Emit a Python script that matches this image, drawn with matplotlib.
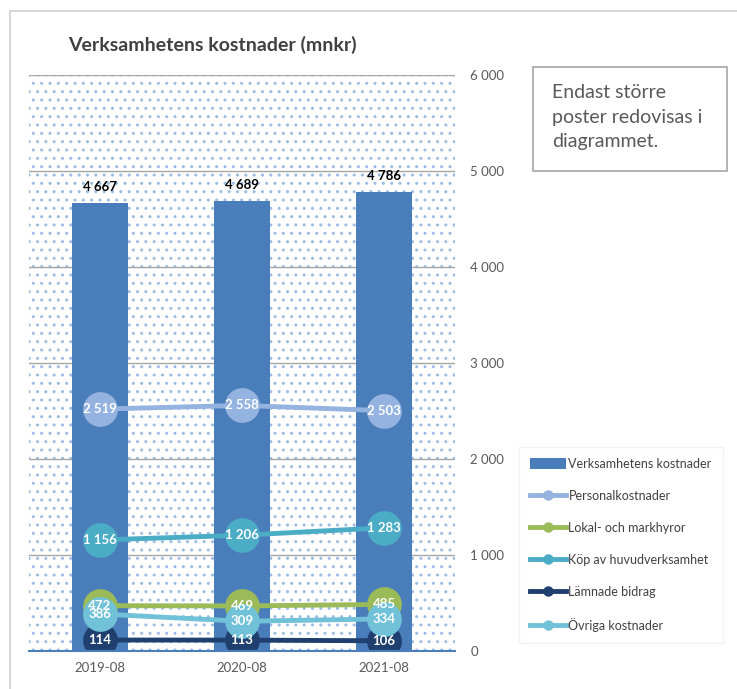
import matplotlib.pyplot as plt
from matplotlib.patches import Rectangle
import numpy as np

plt.rcParams['font.family'] = ['Lato', 'DejaVu Sans']

# data
periods = ['2019-08', '2020-08', '2021-08']
totals = [4667, 4689, 4786]
personal = [2519, 2558, 2503]
lokal = [472, 469, 485]
kop = [1156, 1206, 1283]
bidrag = [114, 113, 106]
ovriga = [386, 309, 334]
yticks = [0, 1000, 2000, 3000, 4000, 5000, 6000]


def fmt(v):
    return f'{v:,}'.replace(',', ' ')


fig = plt.figure(figsize=(7.37, 6.89), dpi=100)
ax = fig.add_axes([0.0393, 0.0552, 0.578, 0.836])

x = np.arange(len(periods))

# dotted background
bg = Rectangle((0, 0), 1, 1, transform=ax.transAxes, facecolor='white',
               edgecolor='#9dbbe3', hatch='..', linewidth=0, zorder=0)
ax.add_patch(bg)

for yv in yticks[1:]:
    ax.axhline(yv, color='#a6a6a6', linewidth=1, zorder=1)

bar_col = '#4a7ebb'
ax.bar(x, totals, width=0.4, color=bar_col, zorder=2,
       label='Verksamhetens kostnader')
for xi, v in zip(x, totals):
    ax.text(xi, v + 100, fmt(v), ha='center', va='bottom', fontsize=9.5,
            fontweight='bold', color='black', zorder=6)

series = [
    ('Personalkostnader', personal, '#95b3e0'),
    ('Lokal- och markhyror', lokal, '#9bbb59'),
    ('Köp av huvudverksamhet', kop, '#4bacc6'),
    ('Lämnade bidrag', bidrag, '#1f3f6e'),
    ('Övriga kostnader', ovriga, '#71c2d8'),
]
for name, vals, col in series:
    ax.plot(x, vals, color=col, linewidth=3.5, marker='o', markersize=25,
            markeredgewidth=0, zorder=3, label=name)
    for xi, v in zip(x, vals):
        ax.text(xi, v, fmt(v), ha='center', va='center', fontsize=9.5,
                fontweight='bold', color='white', zorder=5)

ax.set_xlim(-0.5, 2.5)
ax.set_ylim(0, 6000)
ax.set_xticks(x)
ax.set_xticklabels(periods, fontsize=9.5, color='#595959')
ax.yaxis.tick_right()
ax.set_yticks(yticks)
ax.set_yticklabels([fmt(v) for v in yticks], fontsize=9.5, color='#595959')
ax.tick_params(axis='both', length=0)
ax.tick_params(axis='y', pad=11)
ax.tick_params(axis='x', pad=8)
for s in ['top', 'right', 'left']:
    ax.spines[s].set_visible(False)
ax.spines['bottom'].set_color('#4a7ebb')
ax.spines['bottom'].set_linewidth(1.5)
ax.spines['bottom'].set_zorder(4)

fig.text(68 / 737, 1 - 45 / 689, 'Verksamhetens kostnader (mnkr)',
         fontsize=14, fontweight='bold', color='#404040', va='center')

# note box
fig.text(552 / 737, 1 - 117 / 689,
         'Endast större\nposter redovisas i\ndiagrammet.',
         fontsize=14, color='#595959', va='center', ha='left', linespacing=1.55)
fig.patches.append(Rectangle((533 / 737, 1 - 171 / 689), 194 / 737, 104 / 689,
                             transform=fig.transFigure, facecolor='none',
                             edgecolor='#a6a6a6', linewidth=1.2))

# outer frame lines
fig.add_artist(plt.Line2D([10 / 737, 1], [1 - 11 / 689, 1 - 11 / 689],
                          color='#d0d0d0', linewidth=1.2))
fig.add_artist(plt.Line2D([10 / 737, 10 / 737], [0, 1 - 11 / 689],
                          color='#d0d0d0', linewidth=1.2))

handles, labels = ax.get_legend_handles_labels()
order = [5, 0, 1, 2, 3, 4]
leg = fig.legend([handles[i] for i in order], [labels[i] for i in order],
                 loc='upper left', bbox_to_anchor=(516 / 737, 1 - 444 / 689),
                 fontsize=9, frameon=True, handlelength=2.9, handletextpad=0.2,
                 labelspacing=1.6, borderpad=0.6, markerscale=0.3,
                 handleheight=0.9, labelcolor='#404040')
leg.get_frame().set_edgecolor('#f0f0f0')
leg.get_frame().set_facecolor('white')
leg.get_frame().set_boxstyle('square')

fig.savefig('out.png', dpi=100)
